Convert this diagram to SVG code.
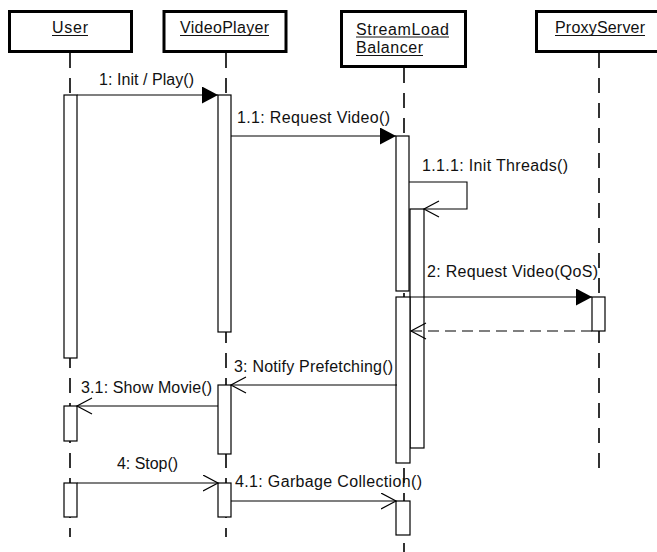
<svg xmlns="http://www.w3.org/2000/svg" width="657" height="552" viewBox="0 0 657 552">
  <style>
    .obj { fill: #fff; stroke: #000; stroke-width: 3; }
    .name { font-family: "Liberation Sans", Arial, sans-serif; font-size: 16px; fill: #111; }
    .ul { stroke: #111; stroke-width: 1; }
    .life { stroke: #000; stroke-width: 1.6; stroke-dasharray: 15 10; fill: none; }
    .act { fill: #fff; stroke: #000; stroke-width: 1.2; }
    .msg { stroke: #000; stroke-width: 1.1; fill: none; }
    .ret { stroke: #000; stroke-width: 1.1; fill: none; stroke-dasharray: 11 6; }
    .lbl { font-family: "Liberation Sans", Arial, sans-serif; font-size: 16px; fill: #111; }
  </style>
  <defs>
    <marker id="filled" markerUnits="userSpaceOnUse" markerWidth="18" markerHeight="19" refX="16" refY="8.5" orient="auto">
      <path d="M0,0 L16,8.5 L0,17 Z" fill="#000"/>
    </marker>
    <marker id="open" markerUnits="userSpaceOnUse" markerWidth="18" markerHeight="19" refX="15.5" refY="8.5" orient="auto">
      <path d="M0.5,0.5 L15.5,8.5 L0.5,16.5" fill="none" stroke="#000" stroke-width="1.2"/>
    </marker>
  </defs>
  <rect width="657" height="552" fill="#fff"/>

  <!-- lifelines -->
  <g id="lifelines">
    <line class="life" x1="70" y1="53" x2="70" y2="537"/>
    <line class="life" x1="226" y1="53" x2="226" y2="537"/>
    <line class="life" x1="404" y1="68" x2="404" y2="552"/>
    <line class="life" x1="599" y1="53" x2="599" y2="468"/>
  </g>

  <!-- objects -->
  <g id="user">
    <rect class="obj" x="9.5" y="11.5" width="122" height="40"/>
    <text class="name" x="52" y="33" textLength="36">User</text>
    <line class="ul" x1="52" y1="35.5" x2="88" y2="35.5"/>
    <rect class="act" x="64" y="95" width="13" height="263"/>
    <rect class="act" x="64" y="406" width="13" height="35"/>
    <rect class="act" x="64" y="483" width="13" height="34"/>
  </g>
  <g id="videoplayer">
    <rect class="obj" x="164" y="11.5" width="122" height="40"/>
    <text class="name" x="180" y="33" textLength="89">VideoPlayer</text>
    <line class="ul" x1="180" y1="35.5" x2="269" y2="35.5"/>
    <rect class="act" x="218" y="95" width="13" height="237"/>
    <rect class="act" x="218" y="385" width="13" height="69"/>
    <rect class="act" x="218" y="483" width="13" height="34"/>
  </g>
  <g id="streamloadbalancer">
    <rect class="obj" x="341.5" y="11.5" width="124" height="55"/>
    <text class="name" x="356" y="34.5" textLength="93">StreamLoad</text>
    <line class="ul" x1="356" y1="37" x2="449" y2="37"/>
    <text class="name" x="356" y="53" textLength="67">Balancer</text>
    <line class="ul" x1="356" y1="55.5" x2="423" y2="55.5"/>
    <rect class="act" x="396" y="136" width="13" height="155"/>
    <rect class="act" x="410" y="209" width="14" height="239"/>
    <rect class="act" x="396" y="297" width="14" height="166"/>
    <rect class="act" x="396" y="501" width="14" height="34"/>
  </g>
  <g id="proxyserver">
    <rect class="obj" x="536.5" y="11.5" width="122" height="40"/>
    <text class="name" x="555" y="33" textLength="90">ProxyServer</text>
    <line class="ul" x1="555" y1="35.5" x2="645" y2="35.5"/>
    <rect class="act" x="592" y="297" width="13" height="34"/>
  </g>

  <!-- messages -->
  <g id="connectors">
    <line class="msg" x1="77" y1="95" x2="218" y2="95" marker-end="url(#filled)"/>
    <text class="lbl" x="99" y="85" textLength="95">1: Init / Play()</text>

    <line class="msg" x1="231" y1="136" x2="396" y2="136" marker-end="url(#filled)"/>
    <text class="lbl" x="237" y="123" textLength="153">1.1: Request Video()</text>

    <path class="msg" d="M409,182 H467 V209 H424" marker-end="url(#open)"/>
    <text class="lbl" x="422" y="171" textLength="146">1.1.1: Init Threads()</text>

    <line class="msg" x1="410" y1="297" x2="592" y2="297" marker-end="url(#filled)"/>
    <text class="lbl" x="427" y="277" textLength="171">2: Request Video(QoS)</text>

    <line class="ret" x1="592" y1="331" x2="411" y2="331" marker-end="url(#open)"/>

    <line class="msg" x1="397" y1="385" x2="231" y2="385" marker-end="url(#open)"/>
    <text class="lbl" x="234" y="372" textLength="159">3: Notify Prefetching()</text>

    <line class="msg" x1="218" y1="406" x2="77" y2="406" marker-end="url(#open)"/>
    <text class="lbl" x="81" y="393" textLength="131">3.1: Show Movie()</text>

    <line class="msg" x1="77" y1="483" x2="218" y2="483" marker-end="url(#open)"/>
    <text class="lbl" x="117" y="469" textLength="61">4: Stop()</text>

    <line class="msg" x1="231" y1="501" x2="396" y2="501" marker-end="url(#open)"/>
    <text class="lbl" x="235" y="487" textLength="187">4.1: Garbage Collection()</text>
  </g>
</svg>
